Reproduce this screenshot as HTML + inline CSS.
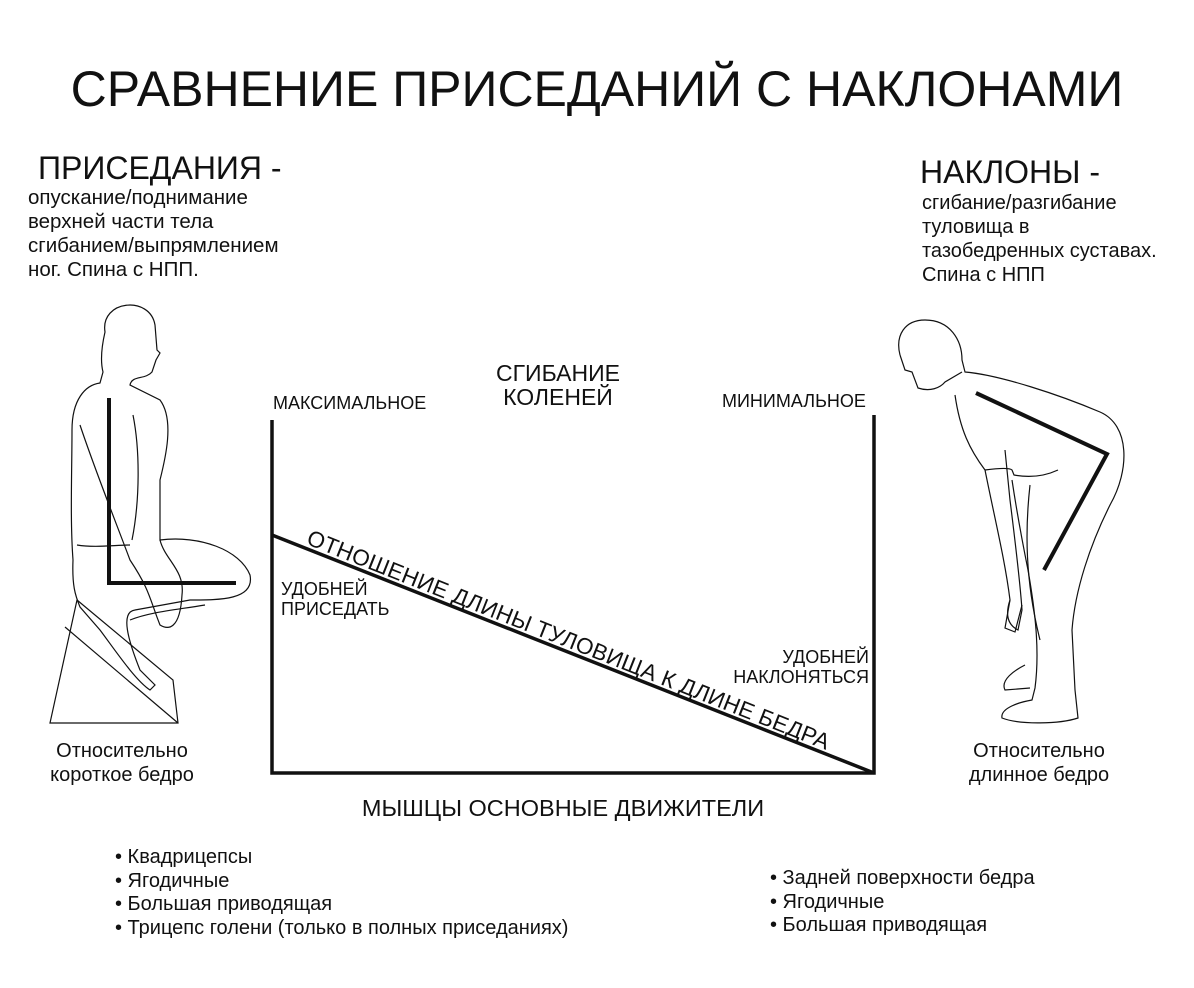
<!DOCTYPE html>
<html><head><meta charset="utf-8"><style>
body{margin:0;background:#fff;}
.c{position:relative;width:1194px;height:988px;overflow:hidden;font-family:"Liberation Sans",Arial,sans-serif;color:#111;}
.t{position:absolute;white-space:nowrap;line-height:1;}
</style></head><body><div class="c">
<div class="t" style="left:0;width:1194px;text-align:center;top:64px;font-size:50px;">СРАВНЕНИЕ ПРИСЕДАНИЙ С НАКЛОНАМИ</div>
<div class="t" style="left:38px;top:152px;font-size:32px;">ПРИСЕДАНИЯ -</div>
<div class="t" style="left:28px;top:186px;font-size:20.5px;line-height:24px;">опускание/поднимание<br>верхней части тела<br>сгибанием/выпрямлением<br>ног. Спина с НПП.</div>
<div class="t" style="left:920px;top:156px;font-size:32px;">НАКЛОНЫ -</div>
<div class="t" style="left:922px;top:191px;font-size:20px;line-height:24px;">сгибание/разгибание<br>туловища в<br>тазобедренных суставах.<br>Спина с НПП</div>
<div class="t" style="left:458px;width:200px;text-align:center;top:361px;font-size:23px;line-height:24px;">СГИБАНИЕ<br>КОЛЕНЕЙ</div>
<div class="t" style="left:273px;top:394px;font-size:18px;">МАКСИМАЛЬНОЕ</div>
<div class="t" style="left:722px;top:392px;font-size:18px;">МИНИМАЛЬНОЕ</div>
<div class="t" style="left:281px;top:579px;font-size:18px;line-height:20px;">УДОБНЕЙ<br>ПРИСЕДАТЬ</div>
<div class="t" style="left:669px;width:200px;text-align:right;top:647px;font-size:18px;line-height:20px;">УДОБНЕЙ<br>НАКЛОНЯТЬСЯ</div>
<div class="t" style="left:22px;width:200px;text-align:center;top:739px;font-size:20px;line-height:24px;">Относительно<br>короткое бедро</div>
<div class="t" style="left:939px;width:200px;text-align:center;top:739px;font-size:20px;line-height:24px;">Относительно<br>длинное бедро</div>
<div class="t" style="left:263px;width:600px;text-align:center;top:797px;font-size:23.5px;">МЫШЦЫ ОСНОВНЫЕ ДВИЖИТЕЛИ</div>
<div class="t" style="left:115px;top:846px;font-size:20px;line-height:23.5px;">• Квадрицепсы<br>• Ягодичные<br>• Большая приводящая<br>• Трицепс голени (только в полных приседаниях)</div>
<div class="t" style="left:770px;top:867px;font-size:20px;line-height:23.5px;">• Задней поверхности бедра<br>• Ягодичные<br>• Большая приводящая</div>
<div class="t" style="left:312px;top:527px;font-size:22.5px;transform:rotate(21.6deg);transform-origin:0 0;letter-spacing:0.2px;">ОТНОШЕНИЕ ДЛИНЫ ТУЛОВИЩА К ДЛИНЕ БЕДРА</div>
<svg width="1194" height="988" style="position:absolute;left:0;top:0" fill="none" stroke="#111">
<g stroke-width="3.5">
<path d="M272 420 V773 H874 V415"/>
<path d="M272 535 L874 773"/>
</g>
<g stroke-width="1.2">
<path d="M105 332 C100 300 150 295 155 325 L157 350 L160 353 L156 360 L152 372 C145 380 132 375 130 385 L160 400 C175 420 165 460 160 480 L160 540 C200 535 240 550 250 575 C255 600 220 600 190 600 L135 610 C120 612 128 640 140 670 L155 685 L150 690 C135 680 115 650 100 630 L80 607 C75 595 72 585 73 560 C70 520 72 470 72 430 C72 400 85 385 100 383 L103 372 C100 360 102 345 105 332 Z"/>
<path d="M77 545 C95 548 115 545 130 545"/>
<path d="M80 425 C95 470 115 520 130 560 C150 590 150 600 160 625 C168 630 180 630 182 595 C185 570 165 560 160 540"/>
<path d="M133 415 C140 450 140 500 132 540"/>
<path d="M130 620 C150 612 175 610 205 605"/>
<path d="M77 600 L50 723 H178 L173 680 Z"/>
<path d="M65 627 L178 723"/>
<!-- right figure -->
<path d="M900 355 C895 335 905 320 925 320 C950 320 962 340 962 360 L965 372 C1000 375 1060 395 1100 412 C1130 425 1130 470 1110 505 C1090 545 1075 590 1072 630 L1075 690 L1078 718 C1060 724 1020 725 1002 718 C1000 708 1020 702 1032 700 L1035 688 C1040 650 1035 610 1028 570 C1020 530 1015 500 1012 480"/>
<path d="M900 355 L905 370 L912 372 L918 388 C930 392 940 388 945 382 L962 372"/>
<path d="M955 395 C960 430 970 450 985 470 C995 520 1005 560 1010 600 C1005 615 1008 625 1018 630 L1022 610 C1020 580 1015 540 1010 500 L1005 450"/>
<path d="M1010 600 L1005 628 L1015 632 L1022 605"/>
<path d="M985 470 C1000 468 1010 468 1012 470 L1014 475 C1030 478 1045 476 1058 470"/>
<path d="M1025 665 C1015 670 1000 680 1005 690 L1030 688"/>
<path d="M1030 485 C1025 530 1025 580 1040 640"/>
</g>
<g stroke-width="4">
<path d="M109 398 V583 H236"/>
<path d="M976 393 L1107 454 L1044 570"/>
</g>
</svg>
</div></body></html>
